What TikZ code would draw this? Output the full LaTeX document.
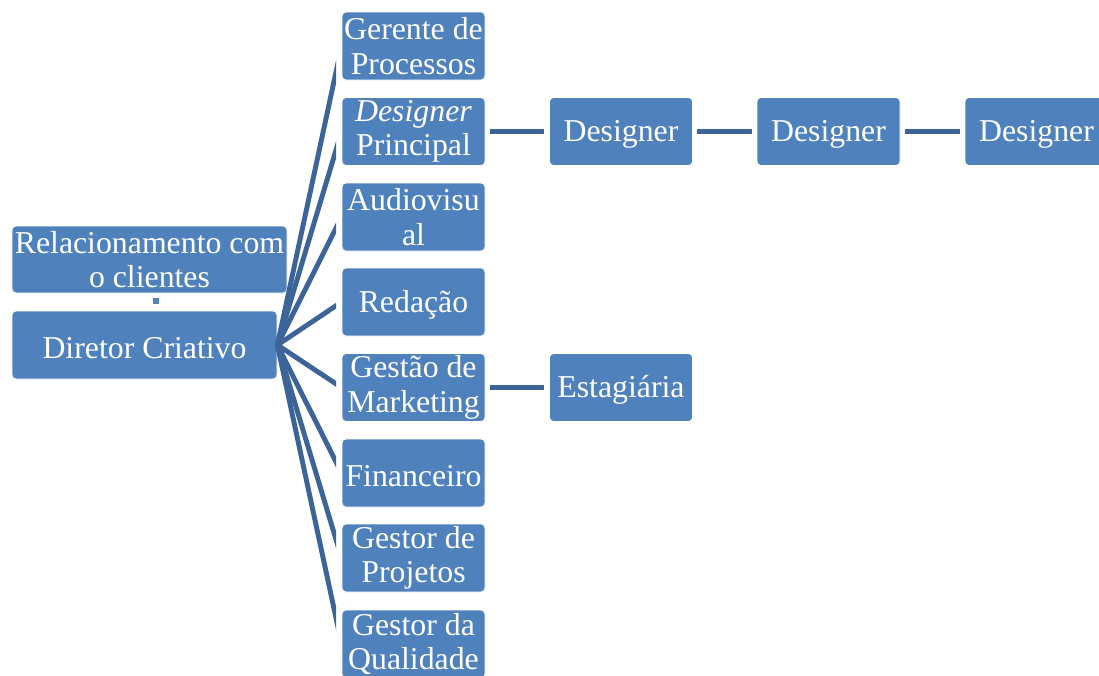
\documentclass[tikz,border=0pt]{standalone}
\usepackage{fontspec}
\setmainfont{Liberation Serif}
\definecolor{boxblue}{RGB}{79,129,189}
\definecolor{linkblue}{RGB}{60,100,152}
\begin{document}
\begin{tikzpicture}[x=0.75pt,y=-0.75pt,
  orgbox/.style={draw=white, line width=0.6pt, fill=boxblue, rounded corners=3pt,
    text=white, align=center, inner sep=0pt,
    font=\fontsize{23.85}{25.8}\selectfont,
    execute at begin node={\rule{0pt}{20.3pt}}},
  colbox/.style={orgbox, minimum width=107.25pt, minimum height=51pt},
  fan/.style={draw=linkblue, line width=3.7pt},
  hlink/.style={draw=linkblue, line width=3.8pt, shorten <=3.2pt, shorten >=3.6pt}]
\useasboundingbox (0,0) rectangle (1099,675);

% left-hand boxes
\node[orgbox, minimum width=206.25pt, minimum height=50.25pt] (rel) at (149.5,259.5) {Relacionamento com\\o clientes};
\node[orgbox, minimum width=198.75pt, minimum height=51pt] (dir) at (144.5,345) {Diretor Criativo};
\node[fill=boxblue, minimum size=4pt, inner sep=0pt] (dot) at (156,301) {};

% column of departments
\node[colbox] (gp) at (413.5,46) {Gerente de\\Processos};
\node[colbox] (dp) at (413.5,131.5) {\textit{Designer}\\Principal};
\node[colbox] (av) at (413.5,217) {Audiovisu\\al};
\node[colbox] (red) at (413.5,302) {Redação};
\node[colbox] (mkt) at (413.5,387.5) {Gestão de\\Marketing};
\node[colbox] (fin) at (413.5,473) {Financeiro};
\node[colbox] (proj) at (413.5,558) {Gestor de\\Projetos};
\node[colbox] (qual) at (413.5,644) {Gestor da\\Qualidade};

% second level
\node[colbox] (d1) at (621,131.5) {Designer};
\node[colbox] (d2) at (828.5,131.5) {Designer};
\node[colbox] (d3) at (1036.5,131.5) {Designer};
\node[colbox] (est) at (621,387.5) {Estagiária};

% fan of links from the director
\begin{scope}
  \clip (270,0) rectangle (336,675);
  \foreach \t in {gp,dp,av,red,mkt,fin,proj,qual}
    \draw[fan] (dir.east) -- (\t.west);
\end{scope}

% horizontal links
\draw[hlink] (dp) -- (d1);
\draw[hlink] (d1) -- (d2);
\draw[hlink] (d2) -- (d3);
\draw[hlink] (mkt) -- (est);
\end{tikzpicture}
\end{document}
